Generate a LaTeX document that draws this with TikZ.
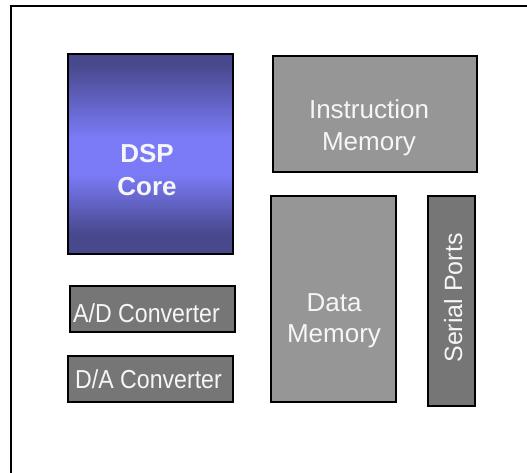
\documentclass[tikz,border=0pt]{standalone}
\usepackage{fontspec}
\setmainfont{Liberation Sans}
\newfontfamily\condfont[FakeStretch=0.89]{Liberation Sans}
\definecolor{dspdark}{RGB}{72,72,140}
\definecolor{dsplight}{RGB}{123,123,248}
\pgfdeclareverticalshading{dspshade}{100bp}{color(0bp)=(dspdark); color(30bp)=(dspdark); color(45bp)=(dsplight); color(54bp)=(dsplight); color(72.5bp)=(dspdark); color(100bp)=(dspdark)}
\begin{document}
\begin{tikzpicture}[x=1pt,y=-1pt,
  blk/.style={draw=black, line width=2pt, inner sep=0pt},
  light/.style={blk, fill={rgb,255:red,150;green,150;blue,150}},
  dark/.style={blk, fill={rgb,255:red,118;green,118;blue,118}},
  lbl/.style={inner sep=0pt, text=white!93!gray, align=center,
    font=\fontsize{26}{32}\selectfont}]
\useasboundingbox (0,0) rectangle (527,472);
\draw[line width=2pt] (11,473) -- (11,6) -- (528,6);
\node[blk, shading=dspshade, minimum width=165pt, minimum height=200pt] (dsp) at (150.5,154) {};
\node[lbl, font=\fontsize{26}{33}\selectfont\bfseries] (dsptext) at (147,170) {DSP\\Core};
\node[light, minimum width=204pt, minimum height=116pt] (imem) at (375,114) {};
\node[lbl] (imemtext) at (369,127.5) {Instruction\\Memory};
\node[light, minimum width=125pt, minimum height=206pt] (dmem) at (333.5,299) {};
\node[lbl, font=\fontsize{26}{31}\selectfont] (dmemtext) at (334,321) {Data\\Memory};
\node[dark, minimum width=47pt, minimum height=210pt] (ser) at (451.5,301) {};
\node[lbl, rotate=90, anchor=base, font=\fontsize{25}{30}\selectfont] (sertext) at (462,298) {Serial Ports};
\node[dark, minimum width=165pt, minimum height=46pt] (ad) at (152.5,309) {};
\node[lbl, anchor=base, font=\fontsize{26}{30}\condfont] (adtext) at (146.5,322) {A/D Converter};
\node[dark, minimum width=165pt, minimum height=46pt] (da) at (150.5,379) {};
\node[lbl, anchor=base, font=\fontsize{26}{30}\condfont] (datext) at (148.5,388) {D/A Converter};
\end{tikzpicture}
\end{document}
